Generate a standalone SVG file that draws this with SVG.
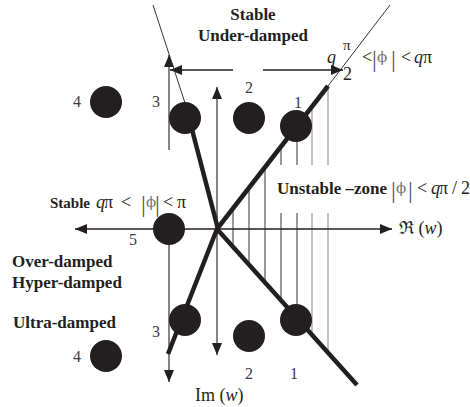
<svg xmlns="http://www.w3.org/2000/svg" width="470" height="407" viewBox="0 0 470 407">
<style>
  text { font-family: "Liberation Serif", "Times New Roman", serif; fill: #231f20; }
  .b { font-weight: bold; font-size: 17px; }
  .m { font-size: 18px; }
  .i { font-style: italic; }
  .n { font-size: 16px; text-anchor: middle; fill: #3a3a4a; }
  .bar { font-size: 24px; fill: #555; }
  .phi { fill: #777; font-family: "DejaVu Serif", serif; font-size: 15px; }
  .ax { stroke: #222; stroke-width: 1.3; fill: none; }
  .gax { stroke: #666; stroke-width: 1.6; fill: none; }
  .thick { stroke: #231f20; stroke-width: 4.5; stroke-linecap: butt; fill: none; }
  .thin { stroke: #333; stroke-width: 1; fill: none; }
  .h1 { stroke: #333; stroke-width: 1; }
  .h2 { stroke: #999; stroke-width: 1.2; }
  .ball { fill: #231f20; }
</style>
<defs>
  <marker id="ah" markerUnits="userSpaceOnUse" markerWidth="12" markerHeight="10" refX="12" refY="5" orient="auto-start-reverse">
    <path d="M0,0 L12,5 L0,10 z" fill="#231f20"/>
  </marker>
</defs>

<g id="connectors">
  <line class="h1" x1="233" y1="211" x2="233" y2="247"/>
  <line class="h1" x1="249" y1="186" x2="249" y2="265"/>
  <line class="h1" x1="265" y1="167" x2="265" y2="283"/>
  <line class="h1" x1="281" y1="147" x2="281" y2="165"/>
  <line class="h1" x1="281" y1="213" x2="281" y2="301"/>
  <line class="h1" x1="297" y1="130" x2="297" y2="165"/>
  <line class="h1" x1="297" y1="213" x2="297" y2="319"/>
  <line class="h2" x1="312" y1="106" x2="312" y2="165"/>
  <line class="h2" x1="312" y1="213" x2="312" y2="336"/>
  <line class="h2" x1="328" y1="86" x2="328" y2="165"/>
  <line class="h2" x1="328" y1="213" x2="328" y2="354"/>

  <line class="ax" x1="75" y1="229" x2="392" y2="229" marker-start="url(#ah)" marker-end="url(#ah)"/>
  <line class="gax" x1="217" y1="355" x2="217" y2="87" marker-start="url(#ah)" marker-end="url(#ah)"/>
  <line class="gax" x1="169" y1="150" x2="169" y2="55" marker-end="url(#ah)"/>
  <line class="gax" x1="169" y1="245" x2="169" y2="382" marker-end="url(#ah)"/>

  <line class="ax" x1="233" y1="70" x2="170" y2="70" marker-end="url(#ah)"/>
  <line class="ax" x1="263" y1="70" x2="343" y2="70" marker-end="url(#ah)"/>

  <line class="thin" x1="153" y1="5" x2="185" y2="103"/>
  <line class="thick" x1="189" y1="118" x2="218" y2="229"/>
  <line class="thin" x1="390" y1="5" x2="328" y2="86"/>
  <line class="thick" x1="328" y1="86" x2="217" y2="229"/>
  <line class="thick" x1="217" y1="229" x2="357" y2="385"/>
  <line class="thick" x1="217" y1="229" x2="168" y2="354"/>
</g>

<g id="pole-u4"><circle class="ball" cx="106" cy="102" r="16"/><text class="n" x="77" y="107">4</text></g>
<g id="pole-u3"><circle class="ball" cx="185" cy="118" r="16"/><text class="n" x="156" y="107">3</text></g>
<g id="pole-u2"><circle class="ball" cx="249" cy="118" r="16"/><text class="n" x="249" y="93">2</text></g>
<g id="pole-u1"><circle class="ball" cx="296" cy="126" r="16"/><text class="n" x="298" y="108">1</text></g>
<g id="pole-5"><circle class="ball" cx="169" cy="229" r="16"/><text class="n" x="133" y="245">5</text></g>
<g id="pole-l3"><circle class="ball" cx="185" cy="320" r="16"/><text class="n" x="156" y="337">3</text></g>
<g id="pole-l2"><circle class="ball" cx="249" cy="336" r="16"/><text class="n" x="249" y="379">2</text></g>
<g id="pole-l1"><circle class="ball" cx="296" cy="320" r="16"/><text class="n" x="294" y="379">1</text></g>
<g id="pole-l4"><circle class="ball" cx="106" cy="356" r="16"/><text class="n" x="77" y="362">4</text></g>

<g id="label-top">
  <text class="b" x="253" y="20" text-anchor="middle">Stable</text>
  <text class="b" x="253" y="41" text-anchor="middle">Under-damped</text>
</g>

<g id="formula-top">
  <text class="m i" x="327" y="63">q</text>
  <text class="m" x="343" y="50" style="font-size:15px">π</text>
  <text class="m" x="343" y="80">2</text>
  <text class="m" x="362" y="63">&lt;</text>
  <text class="bar" x="372" y="67">|</text>
  <text class="phi" x="377" y="62">ϕ</text>
  <text class="bar" x="391" y="67">|</text>
  <text class="m" x="401" y="63">&lt;</text>
  <text class="m i" x="414" y="63">q</text>
  <text class="m" x="423" y="63">π</text>
</g>

<g id="label-stable-left">
  <text class="b" x="50" y="208" style="font-size:15px">Stable</text>
  <text class="m i" x="96" y="208">q</text>
  <text class="m" x="104" y="208">π</text>
  <text class="m" x="121" y="208">&lt;</text>
  <text class="bar" x="141" y="212">|</text>
  <text class="phi" x="146" y="207">ϕ</text>
  <text class="bar" x="155" y="212">|</text>
  <text class="m" x="163" y="208">&lt;</text>
  <text class="m" x="177" y="208">π</text>
</g>

<g id="label-unstable">
  <text class="b" x="277" y="194">Unstable –zone</text>
  <text class="bar" x="391" y="198">|</text>
  <text class="phi" x="396" y="193">ϕ</text>
  <text class="bar" x="408" y="198">|</text>
  <text class="m" x="417" y="194">&lt;</text>
  <text class="m i" x="431" y="194">q</text>
  <text class="m" x="439" y="194">π</text>
  <text class="m" x="452" y="194">/</text>
  <text class="m" x="461" y="194">2</text>
</g>

<g id="labels-left">
  <text class="b" x="12" y="267">Over-damped</text>
  <text class="b" x="12" y="288">Hyper-damped</text>
  <text class="b" x="13" y="328">Ultra-damped</text>
</g>

<g id="axis-labels">
  <text class="m" x="399" y="234">ℜ (<tspan class="i">w</tspan>)</text>
  <text class="m" x="195" y="401">Im (<tspan class="i">w</tspan>)</text>
</g>
</svg>
